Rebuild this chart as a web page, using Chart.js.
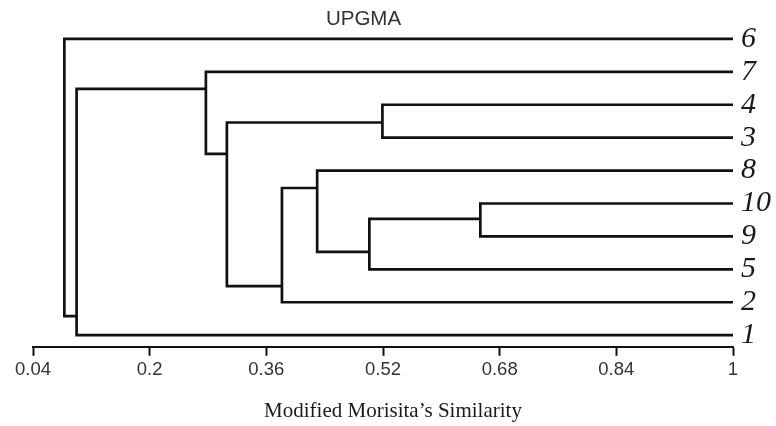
<!DOCTYPE html>
<html><head><meta charset="utf-8">
<script src="https://cdn.jsdelivr.net/npm/chart.js@4"></script>
<style>html,body{margin:0;padding:0;background:#fff}canvas{display:block}</style>
</head><body>
<canvas id="c" width="776" height="426"></canvas>
<script>
// ---- data ----
const leafLabels = ['6','7','4','3','8','10','9','5','2','1'];
const leafSimilarity = 1;
const tickValues = [0.04, 0.2, 0.36, 0.52, 0.68, 0.84, 1];
const tickLabels = ['0.04', '0.2', '0.36', '0.52', '0.68', '0.84', '1'];
const mergeNames       = ['n1',   'n2',   'n3',   'n4',   'n5',   'n6',   'n7',   'n8',   'n9'];
const mergeSimilarity  = [0.6535, 0.5013, 0.5192, 0.4297, 0.3814, 0.3059, 0.2771, 0.0998, 0.0830];
const mergeFirstChild  = ['10',   'n1',   '4',    '8',    'n4',   'n3',   '7',    'n7',   '6'];
const mergeSecondChild = ['9',    '5',    '3',    'n2',   '2',    'n5',   'n6',   '1',    'n8'];
const mergeRow         = [5.47,   6.47,   2.54,   4.53,   7.51,   3.49,   1.52,   8.42,   null];
const titleText = 'UPGMA';
const axisTitle = 'Modified Morisita\u2019s Similarity';

// ---- build ----
function childPos(ref) {
  const li = leafLabels.indexOf(ref);
  if (li >= 0) return {x: leafSimilarity, y: li};
  const ni = mergeNames.indexOf(ref);
  return {x: mergeSimilarity[ni], y: mergeRow[ni]};
}
const datasets = mergeNames.map((name, i) => {
  const a = childPos(mergeFirstChild[i]);
  const b = childPos(mergeSecondChild[i]);
  const s = mergeSimilarity[i];
  return {
    label: name,
    data: [{x: a.x, y: a.y}, {x: s, y: a.y}, {x: s, y: b.y}, {x: b.x, y: b.y}],
    borderColor: '#111',
    borderWidth: 2.7,
    borderJoinStyle: 'miter',
    borderCapStyle: 'butt',
    pointRadius: 0,
    tension: 0,
    fill: false
  };
});

const textPlugin = {
  id: 'texts',
  afterDraw(chart) {
    const ctx = chart.ctx, ca = chart.chartArea;
    ctx.save();
    ctx.textAlign = 'center';
    ctx.textBaseline = 'middle';
    ctx.fillStyle = '#333';
    ctx.font = '20.5px "Liberation Sans", Arial, sans-serif';
    ctx.fillText(titleText, ca.left + 330.5, 19);
    ctx.fillStyle = '#1a1a1a';
    ctx.font = '21px "Liberation Serif", "Times New Roman", serif';
    ctx.fillText(axisTitle, ca.left + 360, 411);
    ctx.restore();
  }
};

new Chart(document.getElementById('c'), {
  type: 'line',
  data: {datasets},
  plugins: [textPlugin],
  options: {
    responsive: false,
    animation: false,
    layout: {padding: {top: 6, left: 33, right: 0, bottom: 42}},
    plugins: {legend: {display: false}, tooltip: {enabled: false}, title: {display: false}},
    scales: {
      x: {
        type: 'linear',
        min: tickValues[0],
        max: tickValues[tickValues.length - 1],
        afterBuildTicks: s => { s.ticks = tickValues.map(v => ({value: v})); },
        grid: {display: true, drawOnChartArea: false, drawTicks: true, tickLength: 9, tickWidth: 2, tickColor: '#111'},
        border: {display: true, color: '#111', width: 2},
        ticks: {
          autoSkip: false, maxRotation: 0, padding: 3, color: '#333',
          font: {family: '"Liberation Sans", Arial, sans-serif', size: 18.5},
          callback: (v, i) => tickLabels[i]
        }
      },
      y: {
        type: 'linear',
        position: 'right',
        reverse: true,
        min: -1,
        max: 9.354,
        afterBuildTicks: s => { s.ticks = leafLabels.map((_, i) => ({value: i})); },
        afterFit: s => { s.width = 43; },
        grid: {display: false},
        border: {display: false},
        ticks: {
          autoSkip: false, padding: 0, color: '#1a1a1a',
          font: {family: '"Liberation Serif", "Times New Roman", serif', style: 'italic', size: 30, lineHeight: 0.3},
          callback: (v) => leafLabels[v]
        }
      }
    }
  }
});
</script>
</body></html>
